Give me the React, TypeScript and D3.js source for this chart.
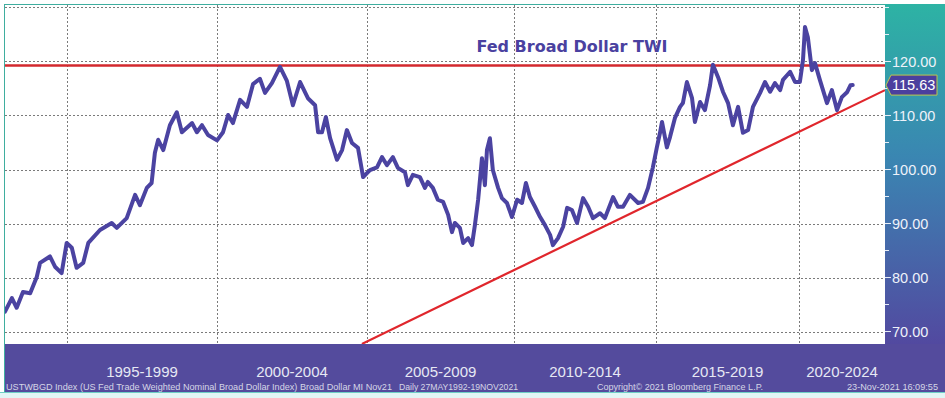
import React from 'react';
import * as d3 from 'd3';

const W = 945;
const H = 398;

const TITLE = 'Fed Broad Dollar TWI';
const Y_MAJOR = [70, 80, 90, 100, 110, 120];
const Y_MINOR = [75, 85, 95, 105, 115, 125, 130];
const GRID_Y = [70, 80, 90, 100, 110, 120, 130];
const PERIODS = ['1995-1999', '2000-2004', '2005-2009', '2010-2014', '2015-2019', '2020-2024'];
const PERIOD_START = [1995, 2000, 2005, 2010, 2015, 2020];
const LAST_VALUE = 115.63;
const RESISTANCE = 119.25;
const TREND_YEARS = [2004.83, 2023.01];
const TREND_VALUES = [67.7, 114.7];

// Fed Broad Dollar TWI (USTWBGD)
const YEARS = [
  1992.93, 1993.16, 1993.32, 1993.53, 1993.77, 1993.99, 1994.1, 1994.43, 1994.6, 1994.82,
  1994.99, 1995.16, 1995.32, 1995.54, 1995.71, 1996.1, 1996.49, 1996.66, 1996.99, 1997.27,
  1997.43, 1997.66, 1997.82, 1997.93, 1998.04, 1998.21, 1998.43, 1998.66, 1998.83, 1999.17,
  1999.33, 1999.5, 1999.7, 2000.0, 2000.2, 2000.37, 2000.53, 2000.77, 2001.0, 2001.2,
  2001.43, 2001.6, 2001.83, 2002.1, 2002.33, 2002.53, 2002.77, 2003.03, 2003.27, 2003.37,
  2003.5, 2003.63, 2003.77, 2004.0, 2004.17, 2004.33, 2004.5, 2004.7, 2004.87, 2005.1,
  2005.34, 2005.51, 2005.68, 2005.88, 2006.05, 2006.29, 2006.39, 2006.56, 2006.8, 2006.97,
  2007.07, 2007.24, 2007.41, 2007.59, 2007.76, 2007.89, 2007.99, 2008.16, 2008.27, 2008.44,
  2008.57, 2008.67, 2008.78, 2008.91, 2009.01, 2009.08, 2009.18, 2009.28, 2009.46, 2009.59,
  2009.76, 2009.93, 2010.11, 2010.28, 2010.42, 2010.56, 2010.74, 2010.92, 2011.09, 2011.27,
  2011.37, 2011.55, 2011.73, 2011.87, 2012.04, 2012.22, 2012.43, 2012.61, 2012.78, 2013.03,
  2013.2, 2013.49, 2013.66, 2013.84, 2014.08, 2014.37, 2014.54, 2014.72, 2014.89, 2015.03,
  2015.14, 2015.21, 2015.38, 2015.49, 2015.66, 2015.84, 2015.94, 2016.08, 2016.26, 2016.36,
  2016.54, 2016.71, 2016.89, 2016.99, 2017.17, 2017.34, 2017.52, 2017.69, 2017.87, 2018.04,
  2018.22, 2018.39, 2018.64, 2018.81, 2018.99, 2019.16, 2019.34, 2019.44, 2019.69, 2019.86,
  2020.03, 2020.14, 2020.21, 2020.31, 2020.45, 2020.56, 2020.73, 2020.98, 2021.15, 2021.33,
  2021.5, 2021.68, 2021.8, 2021.88,
];
const VALUES = [
  73.7, 76.2, 74.4, 77.3, 77.1, 80.1, 82.7, 83.9, 82.0, 80.8,
  86.4, 85.5, 81.8, 82.7, 86.4, 88.8, 90.1, 89.2, 91.0, 95.3,
  93.4, 96.6, 97.5, 103.1, 105.5, 103.6, 108.2, 110.6, 106.9, 108.6,
  106.9, 108.2, 106.4, 105.4, 106.9, 110.1, 108.6, 112.9, 111.6, 115.8,
  116.8, 114.2, 116.0, 119.0, 116.4, 111.9, 116.2, 113.2, 111.9, 106.9,
  106.9, 109.7, 105.8, 101.8, 103.6, 107.3, 104.9, 104.0, 98.6, 99.9,
  100.4, 102.3, 100.8, 102.3, 100.3, 99.5, 97.1, 99.0, 98.6, 96.6,
  97.7, 96.6, 94.4, 94.0, 91.6, 88.4, 90.1, 89.2, 86.4, 87.3,
  86.0, 89.7, 94.4, 102.1, 97.1, 103.6, 105.8, 99.9, 96.6, 94.7,
  93.8, 91.2, 94.4, 93.8, 97.5, 94.9, 93.1, 91.2, 89.7, 87.9,
  86.0, 87.3, 89.4, 92.9, 92.5, 90.1, 94.7, 93.1, 91.0, 91.9,
  91.0, 94.9, 93.1, 93.1, 95.3, 93.8, 94.0, 96.6, 100.4, 104.1,
  106.8, 108.8, 104.1, 106.0, 109.5, 111.6, 112.3, 116.2, 113.2, 108.8,
  112.5, 111.0, 115.6, 119.4, 117.1, 114.4, 112.3, 108.2, 111.6, 106.8,
  107.3, 111.6, 114.2, 116.2, 114.4, 116.0, 114.7, 116.6, 118.1, 116.2,
  116.2, 120.3, 126.4, 124.5, 118.4, 119.7, 116.6, 112.3, 114.7, 111.0,
  113.4, 114.3, 115.6, 115.63,
];

const FOOTER = [
  'USTWBGD Index (US Fed Trade Weighted Nominal Broad Dollar Index) Broad Dollar MI Nov21',
  'Daily 27MAY1992-19NOV2021',
  'Copyright\u00A9 2021 Bloomberg Finance L.P.',
  '23-Nov-2021 16:09:55',
];

// layout
const PL = 5, PR = 885, PT = 5, PB = 344;
const X_BREAKS = [1992.93, 1995, 2000, 2005, 2010, 2015, 2020, 2023.01];
const X_PX = [5, 67, 217, 367, 514, 656, 799, 885];

export default function App() {
  const x = d3.scaleLinear().domain(X_BREAKS).range(X_PX);
  const y = d3.scaleLinear().domain([67.69, 130.46]).range([PB, PT]);
  const data = YEARS.map((yr, i) => [yr, VALUES[i]] as [number, number]);
  const line = d3.line<[number, number]>().x(d => x(d[0])).y(d => y(d[1]));
  const trend = TREND_YEARS.map((yr, i) => [yr, TREND_VALUES[i]] as [number, number]);
  const sans = 'Liberation Sans, Arial, sans-serif';
  const lastY = y(LAST_VALUE);
  const periodEnds = PERIOD_START.map((s, i) => (i < PERIOD_START.length - 1 ? PERIOD_START[i + 1] : X_BREAKS[X_BREAKS.length - 1]));

  const footerX = [6, 399, 597, 847];
  const footerW = [386, 119, 166, 91];

  return (
    <div style={{ position: 'absolute', left: 0, top: 0 }}>
      <svg width={W} height={H} style={{ display: 'block' }}>
        <defs>
          <linearGradient id="axisGrad" x1="0" y1="0" x2="0" y2="1">
            <stop offset="0" stopColor="#2db3a4" />
            <stop offset="0.45" stopColor="#3a86b2" />
            <stop offset="1" stopColor="#5249a0" />
          </linearGradient>
          <clipPath id="plotClip">
            <rect x={PL} y={PT} width={PR - PL} height={PB - PT} />
          </clipPath>
        </defs>
        <rect x={0} y={0} width={W} height={H} fill="#ffffff" />
        {/* right axis panel */}
        <rect x={PR} y={PT - 1} width={W - PR} height={PB - PT + 1} fill="url(#axisGrad)" />
        {/* bottom band */}
        <rect x={PL - 1} y={PB} width={W - PL + 1} height={392 - PB} fill="#544b9d" />
        <rect x={0} y={392} width={W} height={H - 392} fill="#e2f6f6" />
        <line x1={0} x2={W} y1={392.5} y2={392.5} stroke="#6fcfc6" strokeWidth={1} />
        {/* plot frame */}
        <line x1={PL - 0.5} x2={PL - 0.5} y1={PT - 1} y2={392} stroke="#3fae9f" strokeWidth={1} />
        <line x1={PL - 1} x2={PR} y1={PT - 0.5} y2={PT - 0.5} stroke="#3fae9f" strokeWidth={1} />

        {/* grid */}
        {GRID_Y.map(v => (
          <line key={'gy' + v} x1={PL} x2={PR} y1={Math.round(y(v)) + 0.5} y2={Math.round(y(v)) + 0.5}
            stroke="#7a7a7a" strokeWidth={1} strokeDasharray="2,2" />
        ))}
        {PERIOD_START.map(s => (
          <line key={'gx' + s} x1={Math.round(x(s)) + 0.5} x2={Math.round(x(s)) + 0.5} y1={PT} y2={PB}
            stroke="#7a7a7a" strokeWidth={1} strokeDasharray="2,2" />
        ))}

        <text x={(x(X_BREAKS[0]) + x(X_BREAKS[X_BREAKS.length - 1])) / 2 + 127} y={52}
          textAnchor="middle" fontFamily="DejaVu Sans, Verdana, sans-serif" fontWeight="bold"
          fontSize={16} fill="#4a41a0">{TITLE}</text>

        <g clipPath="url(#plotClip)">
          <line x1={PL} x2={PR} y1={y(RESISTANCE)} y2={y(RESISTANCE)} stroke="#d3282e" strokeWidth={2.5} />
          <path d={line(trend) || ''} fill="none" stroke="#e0262c" strokeWidth={2.2} />
          <path d={line(data) || ''} fill="none" stroke="#4b43a1" strokeWidth={4}
            strokeLinejoin="round" strokeLinecap="round" />
        </g>

        {/* right axis ticks and labels */}
        {Y_MINOR.map(v => (
          <line key={'mt' + v} x1={PR} x2={PR + 4} y1={y(v)} y2={y(v)} stroke="#e8eef8" strokeWidth={1} />
        ))}
        {Y_MAJOR.map(v => (
          <g key={'lt' + v}>
            <line x1={PR} x2={PR + 6} y1={y(v)} y2={y(v)} stroke="#e8eef8" strokeWidth={1} />
            <text x={PR + 7} y={y(v) + 5.2} fontFamily={sans} fontSize={14.5} fill="#eef2fa">{v.toFixed(2)}</text>
          </g>
        ))}
        {/* last value tag */}
        <path d={`M${PR + 1},${lastY} L${PR + 6},${lastY - 10} L${W - 8},${lastY - 10} L${W - 8},${lastY + 10} L${PR + 6},${lastY + 10} Z`}
          fill="#4b3f9e" stroke="#bfc64a" strokeWidth={1} />
        <text x={PR + 7} y={lastY + 5.2} fontFamily={sans} fontSize={14.5} fill="#ffffff">{LAST_VALUE.toFixed(2)}</text>

        {/* period labels */}
        {PERIODS.map((p, i) => (
          <text key={p} x={(x(PERIOD_START[i]) + x(periodEnds[i])) / 2} y={377} textAnchor="middle"
            fontFamily={sans} fontSize={15} fill="#e6e8f4">{p}</text>
        ))}

        {/* footer */}
        {FOOTER.map((t, i) => (
          <text key={i} x={footerX[i]} y={390} fontFamily={sans} fontSize={9.5} fill="#d4d6e6"
            textLength={footerW[i]} lengthAdjust="spacingAndGlyphs">{t}</text>
        ))}
      </svg>
    </div>
  );
}
